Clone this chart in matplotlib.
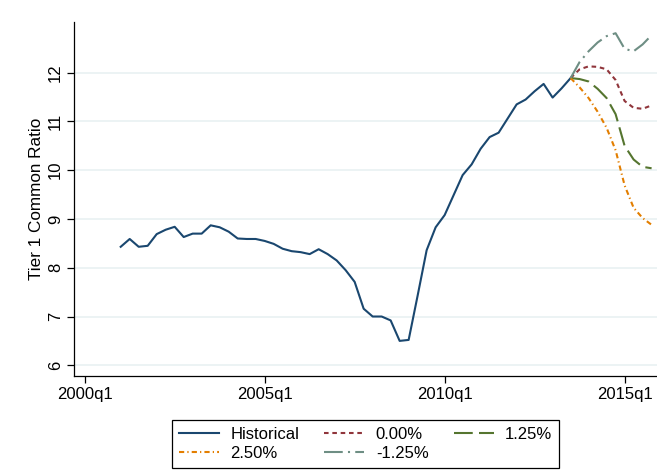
import numpy as np
import matplotlib
matplotlib.use('Agg')
import matplotlib.pyplot as plt

plt.rcParams['font.family'] = ['Liberation Sans', 'DejaVu Sans']

## data (quarterly)
hist_start = (2001, 1)
hist_vals = [8.43, 8.59, 8.43, 8.45, 8.69, 8.78, 8.84, 8.63, 8.70, 8.70,
             8.87, 8.83, 8.74, 8.60, 8.59, 8.59, 8.55, 8.49, 8.39, 8.34,
             8.32, 8.28, 8.38, 8.28, 8.15, 7.95, 7.71, 7.16, 7.00, 7.00,
             6.92, 6.50, 6.52, 7.43, 8.36, 8.83, 9.08, 9.49, 9.90, 10.12,
             10.44, 10.68, 10.77, 11.06, 11.35, 11.45, 11.62, 11.77, 11.49, 11.68,
             11.89]
scen_start = (2013, 3)
scen_0 = [11.89, 12.07, 12.13, 12.12, 12.07, 11.85, 11.42, 11.28, 11.26, 11.33]
scen_125 = [11.89, 11.87, 11.82, 11.67, 11.48, 11.15, 10.50, 10.22, 10.07, 10.04]
scen_250 = [11.89, 11.70, 11.48, 11.20, 10.87, 10.41, 9.69, 9.23, 9.02, 8.88]
scen_m125 = [11.89, 12.22, 12.44, 12.62, 12.75, 12.81, 12.49, 12.44, 12.58, 12.77]
xtick_labels = ['2000q1', '2005q1', '2010q1', '2015q1']
ytick_vals = [6, 7, 8, 9, 10, 11, 12]


def qnum(year, q):
    # quarters since 2000q1
    return (year - 2000) * 4 + (q - 1)


def qlabel_num(s):
    y, q = s.split('q')
    return qnum(int(y), int(q))


x_hist = qnum(*hist_start) + np.arange(len(hist_vals))
x_scen = qnum(*scen_start) + np.arange(len(scen_0))

fig = plt.figure(figsize=(6.57, 4.73), dpi=100)
ax = fig.add_axes([74 / 657, 1 - 376 / 473, 1 - 74 / 657, (376 - 22) / 473])

navy = '#1a476f'
maroon = '#90353b'
green = '#55752f'
orange = '#e37e00'
teal = '#6e8e84'
lw = 1.5

h_hist, = ax.plot(x_hist, hist_vals, color=navy, lw=lw, label='Historical')
h0, = ax.plot(x_scen, scen_0, color=maroon, lw=lw, ls=(0, (2.2, 1.8)), label='0.00%')
h125, = ax.plot(x_scen, scen_125, color=green, lw=lw, ls=(0, (9, 3)), label='1.25%')
h250, = ax.plot(x_scen, scen_250, color=orange, lw=lw, ls=(0, (2.5, 1.5, 0.6, 1.5)), label='2.50%')
hm125, = ax.plot(x_scen, scen_m125, color=teal, lw=lw, ls=(0, (9, 2.5, 1, 2.5)), label='-1.25%')

ax.set_xlim(-1.19, 63.6)
ax.set_ylim(5.78, 13.04)
ax.set_xticks([qlabel_num(s) for s in xtick_labels])
ax.set_xticklabels(xtick_labels, fontsize=12)
ax.set_yticks(ytick_vals)
ax.set_yticklabels([str(v) for v in ytick_vals], fontsize=12, rotation=90, va='center')
ax.set_ylabel('Tier 1 Common Ratio', fontsize=12.3, labelpad=3)
ax.yaxis.grid(True, color='#eaf2f3', lw=1.3)
ax.set_axisbelow(True)
ax.tick_params(length=5, width=0.9, color='black', pad=3)
for side in ['top', 'right']:
    ax.spines[side].set_visible(False)
for side in ['left', 'bottom']:
    ax.spines[side].set_linewidth(0.9)

handles = [h_hist, h250, h0, hm125, h125]
leg = fig.legend(handles, [h.get_label() for h in handles], ncol=3,
                 loc='upper center', bbox_to_anchor=((74 + 657) / 2 / 657, 1 - 412 / 473),
                 fontsize=12, frameon=True, fancybox=False, framealpha=1,
                 edgecolor='black', handlelength=2.4, handletextpad=0.7,
                 columnspacing=1.5, labelspacing=0.25, borderpad=0.4)
leg.get_frame().set_linewidth(0.9)

fig.savefig('out.png', dpi=100)
